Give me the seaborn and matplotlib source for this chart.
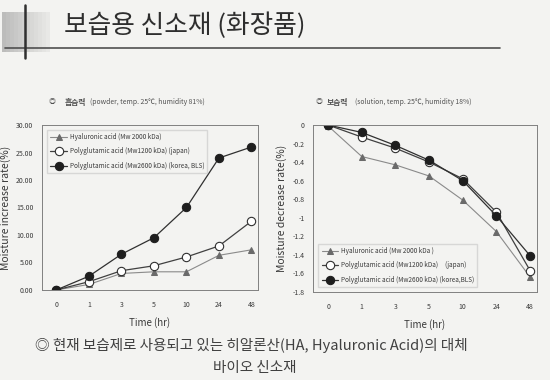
import matplotlib
matplotlib.use("Agg")
import matplotlib.pyplot as plt
import pandas as pd
import seaborn as sns

# time points (categorical axis)
TIMES = ["0", "1", "3", "5", "10", "24", "48"]

# left: moisture absorption (powder, 25C, RH 81%)
ha_absorb = [0.0, 1.0, 3.0, 3.3, 3.3, 6.3, 7.3]
pga1200_absorb = [0.0, 1.5, 3.5, 4.4, 6.0, 8.0, 12.5]
pga2600_absorb = [0.0, 2.5, 6.5, 9.5, 15.0, 24.0, 26.0]

# right: moisture retention (solution, 25C, RH 18%)
ha_retain = [-0.01, -0.34, -0.43, -0.55, -0.81, -1.15, -1.64]
pga1200_retain = [0.0, -0.13, -0.25, -0.40, -0.58, -0.94, -1.57]
pga2600_retain = [0.0, -0.08, -0.22, -0.38, -0.60, -0.98, -1.41]

LEFT_LABELS = ["Hyaluronic acid (Mw 2000 kDa)",
               "Polyglutamic acid (Mw1200 kDa) (japan)",
               "Polyglutamic acid (Mw2600 kDa) (korea, BLS)"]
RIGHT_LABELS = ["Hyaluronic acid (Mw 2000 kDa )",
                "Polyglutamic acid (Mw1200 kDa)     (japan)",
                "Polyglutamic acid (Mw2600 kDa) (korea,BLS)"]

BG = "#f3f3f1"
TXT = "#3a3a3a"
STYLES = [
    dict(color="#8a8a8a", marker="^", markersize=4.5, markerfacecolor="#6a6a6a",
         markeredgecolor="#6a6a6a", linewidth=0.8),
    dict(color="#404040", marker="o", markersize=6, markerfacecolor="white",
         markeredgecolor="#303030", markeredgewidth=0.8, linewidth=0.9),
    dict(color="#303030", marker="o", markersize=6, markerfacecolor="#1e1e1e",
         markeredgecolor="#1e1e1e", linewidth=0.9),
]

sns.set_style("white")
plt.rcParams["font.family"] = ["Noto Sans CJK KR", "DejaVu Sans"]


def draw(ax, series, labels, ylim, yticks, yfmt, ylabel, legend_loc, legend_anchor):
    for vals, lab, st in zip(series, labels, STYLES):
        df = pd.DataFrame({"time": TIMES, "value": vals})
        sns.lineplot(data=df, x="time", y="value", ax=ax, label=lab, **st)
    ax.set_facecolor(BG)
    ax.set_ylim(*ylim)
    ax.set_xlim(-0.45, 6.2)
    ax.set_yticks(yticks)
    ax.set_yticklabels([yfmt(v) for v in yticks])
    ax.tick_params(axis="both", labelsize=5, colors=TXT, length=2, width=0.6)
    ax.tick_params(axis="y", pad=4)
    ax.tick_params(axis="x", pad=6)
    for s in ax.spines.values():
        s.set_color("#808080")
        s.set_linewidth(0.7)
    ax.set_xlabel("Time (hr)", fontsize=7, color=TXT, labelpad=6)
    ax.set_ylabel(ylabel, fontsize=7.5, color=TXT, labelpad=4)
    leg = ax.legend(loc=legend_loc, bbox_to_anchor=legend_anchor, fontsize=4.6,
                    frameon=True, fancybox=False, edgecolor="#d0d0d0",
                    facecolor=BG, handlelength=2.6, labelspacing=1.0,
                    borderpad=0.5, handletextpad=0.4)
    for t in leg.get_texts():
        t.set_color(TXT)


fig = plt.figure(figsize=(5.5, 3.8), dpi=100, facecolor=BG)

ax1 = fig.add_axes([0.076, 0.237, 0.393, 0.434])
draw(ax1, [ha_absorb, pga1200_absorb, pga2600_absorb], LEFT_LABELS,
     (0, 30), [0, 5, 10, 15, 20, 25, 30], lambda v: f"{v:.2f}",
     "Moisture increase rate(%)", "upper left", (0.01, 0.99))

ax2 = fig.add_axes([0.569, 0.232, 0.407, 0.439])
draw(ax2, [ha_retain, pga1200_retain, pga2600_retain], RIGHT_LABELS,
     (-1.8, 0), [0, -0.2, -0.4, -0.6, -0.8, -1.0, -1.2, -1.4, -1.6, -1.8],
     lambda v: f"{v:g}", "Moisture decrease rate(%)", "lower left", (0.01, 0.01))

# slide header decoration
for i in range(12):
    fig.add_artist(plt.Rectangle(((2 + i * 4) / 550, 1 - 52 / 380), 4 / 550, 40 / 380,
                                 color="#909090", alpha=0.55 - i * 0.04, linewidth=0))
fig.add_artist(plt.Line2D([5 / 550, 500 / 550], [1 - 48 / 380] * 2,
                          color="#505050", linewidth=1.2))
fig.add_artist(plt.Line2D([25 / 550] * 2, [1 - 5 / 380, 1 - 58 / 380],
                          color="#303030", linewidth=1.8))
fig.text(64 / 550, 1 - 26 / 380, "보습용 신소재 (화장품)", fontsize=18.5,
         color="#2e2e2e", va="center", ha="left")

# sub headings
for bx, kx, px, kor, eng in [
        (49, 65, 90, "흡습력", "(powder, temp. 25℃, humidity 81%)"),
        (316, 327, 355, "보습력", "(solution, temp. 25℃, humidity 18%)")]:
    y = 1 - 102 / 380
    fig.text(bx / 550, y, "◎", fontsize=5, color="#505050", va="center")
    fig.text(kx / 550, y, kor, fontsize=5.6, color="#505050", va="center",
             fontweight="bold")
    fig.text(px / 550, y, eng, fontsize=4.9, color="#505050", va="center")

# footer note
fig.text(251 / 550, 1 - 345 / 380,
         "◎ 현재 보습제로 사용되고 있는 히알론산(HA, Hyaluronic Acid)의 대체",
         fontsize=10.5, color="#404040", ha="center", va="center")
fig.text(255 / 550, 1 - 368 / 380, "바이오 신소재", fontsize=10.5,
         color="#404040", ha="center", va="center")

fig.savefig("out.png", dpi=100, facecolor=BG)
